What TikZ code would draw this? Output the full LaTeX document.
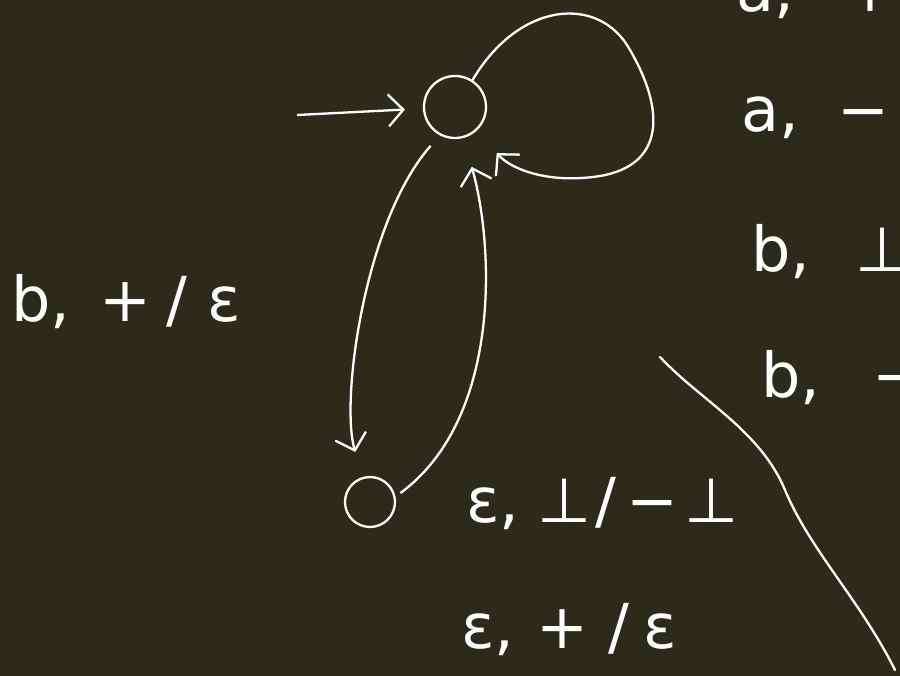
\documentclass[tikz,border=0pt]{standalone}
\usepackage{fontspec}
\setmainfont{DejaVu Sans}
\usetikzlibrary{arrows.meta}
\definecolor{board}{RGB}{43,42,27}

\begin{document}
\begin{tikzpicture}[x=1pt, y=-1pt, line width=2.3pt, white,
        st/.style={draw=white,circle,inner sep=0pt},
        hand/.style={-{Straight Barb[length=15pt,width=32pt]}},
        lbl/.style={anchor=base west,inner sep=0pt,text=white,
                    font=\fontsize{62}{70}\selectfont}]
      \fill[board] (0,0) rectangle (900,676);
      \useasboundingbox (0,0) rectangle (900,676);
      \clip (0,0) rectangle (900,676);
      % the two states
      \node[st,minimum size=62pt] (q0) at (455,107) {};
      \node[st,minimum size=50pt] (q1) at (370,502) {};
      \coordinate (start) at (297,115);
      \draw[hand,shorten >=18pt] (start) -- (q0);
      % self loop on q0
      \draw[hand,shorten >=30pt] (q0.57) .. controls (520,0) and (600,-5) .. (630,50)
            .. controls (665,110) and (665,165) .. (600,176)
            .. controls (550,184) and (512,170) .. (q0);
      % q0 <-> q1
      \draw[hand,shorten <=14pt,shorten >=26pt] (q0.242) .. controls (365,220) and (340,400) .. (q1);
      \draw[hand,shorten <=6pt,shorten >=30pt] (q1.12) .. controls (500,420) and (495,250) .. (q0);
      % stroke on the right
      \coordinate (cA) at (660,357);
      \coordinate (cB) at (895,670);
      \draw[line cap=round] (cA) .. controls (700,400) and (760,430) .. (785,490)
            .. controls (810,550) and (860,600) .. (cB);
      % transition labels
      \node[lbl] (lb) at (10,322) {b,\hspace{29pt}+\hspace{15pt}/\hspace{20pt}ε};
      \node[lbl] (e1) at (465,522) {ε,\hspace{18pt}⊥\hspace{4pt}/\hspace{10pt}−\hspace{6pt}⊥};
      \node[lbl] (e2) at (460,648) {ε,\hspace{22pt}+\hspace{20pt}/\hspace{14pt}ε};
      \node[lbl] (ra) at (735,12) {a,\hspace{51pt}+};
      \node[lbl] (rb) at (740,132) {a,\hspace{39pt}−};
      \node[lbl] (rc) at (750,272) {b,\hspace{45pt}⊥};
      \node[lbl] (rd) at (760,398) {b,\hspace{52pt}−};
\end{tikzpicture}
\end{document}
